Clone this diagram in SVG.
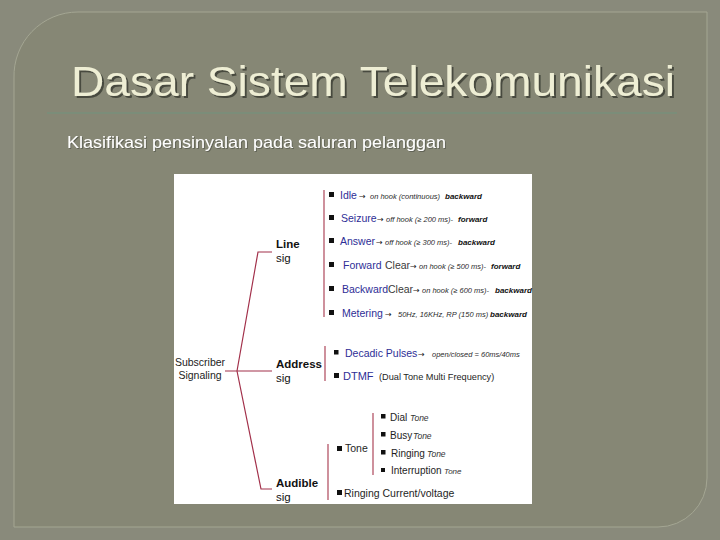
<svg xmlns="http://www.w3.org/2000/svg" width="720" height="540" viewBox="0 0 720 540">
  <defs>
    <filter id="sh" x="-5%" y="-20%" width="110%" height="150%">
      <feDropShadow dx="2" dy="2" stdDeviation="0.6" flood-color="#3e3f35" flood-opacity="0.85"/>
    </filter>
    <filter id="sh2" x="-5%" y="-20%" width="110%" height="150%">
      <feDropShadow dx="1" dy="1" stdDeviation="0.4" flood-color="#4a4b40" flood-opacity="0.6"/>
    </filter>
  </defs>
  <style>
    text { font-family: "Liberation Sans", Arial, sans-serif; }
    .title { font-size: 43px; fill: #eeeed4; }
    .sub { font-size: 17px; fill: #ffffff; }
    .blue { font-size: 10.5px; fill: #2e2e96; }
    .gray { font-size: 10.5px; fill: #3a3a3a; }
    .ital { font-size: 7.5px; font-style: italic; fill: #2a2a2a; }
    .bi { font-size: 8px; font-style: italic; font-weight: bold; fill: #111; }
    .arr { font-family: "DejaVu Sans", sans-serif; font-size: 8px; fill: #222; }
    .blk { font-size: 10.5px; fill: #1e1e1e; }
    .sm { font-size: 9.2px; fill: #1e1e1e; }
    .tone { font-size: 8.5px; font-style: italic; fill: #333; }
    .bold { font-size: 11.5px; font-weight: bold; fill: #111; }
    .reg { font-size: 11.5px; fill: #111; }
    .root { font-size: 10.5px; fill: #222; }
    .b { fill: #111; }
    .tree { stroke: #a2304a; stroke-width: 1.2; fill: none; }
    .brk { stroke: #c27584; stroke-width: 1.6; fill: none; }
  </style>

  <!-- background -->
  <rect x="0" y="0" width="720" height="540" fill="#898a7b"/>
  <path d="M14,78 A64,64 0 0 1 78,12 L707,12 L707,478 A49,49 0 0 1 658,527 L14,527 Z" fill="#868775" stroke="#a4a693" stroke-width="1"/>
  <line x1="47" y1="113" x2="677" y2="113" stroke="#7b8d79" stroke-width="2"/>

  <text class="title" x="71" y="96" textLength="604" lengthAdjust="spacingAndGlyphs" filter="url(#sh)">Dasar Sistem Telekomunikasi</text>
  <text class="sub" x="67" y="148" textLength="379" lengthAdjust="spacingAndGlyphs" filter="url(#sh2)">Klasifikasi pensinyalan pada saluran pelanggan</text>

  <!-- picture panel -->
  <rect x="174" y="174" width="358" height="330" fill="#ffffff"/>

  <!-- connectors -->
  <g id="connectors">
    <polyline class="tree" points="225,371 272,371"/>
    <polyline class="tree" points="237,371 258,252 272,252"/>
    <polyline class="tree" points="237,371 261,489 272,489"/>
    <line class="brk" x1="324" y1="190" x2="324" y2="317"/>
    <line class="brk" x1="325" y1="346" x2="325" y2="381"/>
    <line class="brk" x1="328" y1="444" x2="328" y2="500"/>
    <line class="brk" x1="373" y1="413" x2="373" y2="475"/>
  </g>

  <g id="root">
    <text class="root" x="200" y="366" text-anchor="middle">Subscriber</text>
    <text class="root" x="200" y="379" text-anchor="middle">Signaling</text>
  </g>

  <g id="line-sig">
    <text class="bold" x="276" y="248">Line</text>
    <text class="reg" x="276" y="262">sig</text>
  </g>
  <g id="address-sig">
    <text class="bold" x="276" y="368">Address</text>
    <text class="reg" x="276" y="382">sig</text>
  </g>
  <g id="audible-sig">
    <text class="bold" x="276" y="487">Audible</text>
    <text class="reg" x="276" y="501">sig</text>
  </g>

  <!-- Line sig items -->
  <g id="idle">
    <rect class="b" x="329" y="192" width="5" height="5"/>
    <text class="blue" x="340" y="199">Idle</text>
    <text class="arr" x="359" y="199">→</text>
    <text class="ital" x="370" y="199">on hook (continuous)</text>
    <text class="bi" x="445" y="199">backward</text>
  </g>
  <g id="seizure">
    <rect class="b" x="329" y="215" width="5" height="5"/>
    <text class="blue" x="341" y="222">Seizure</text>
    <text class="arr" x="377" y="222">→</text>
    <text class="ital" x="386" y="222">off hook (≥  200 ms)-</text>
    <text class="bi" x="458" y="222">forward</text>
  </g>
  <g id="answer">
    <rect class="b" x="329" y="238" width="5" height="5"/>
    <text class="blue" x="340" y="245">Answer</text>
    <text class="arr" x="376" y="245">→</text>
    <text class="ital" x="385" y="245">off hook (≥  300 ms)-</text>
    <text class="bi" x="458" y="245">backward</text>
  </g>
  <g id="forward-clear">
    <rect class="b" x="329" y="262" width="5" height="5"/>
    <text class="blue" x="343" y="269">Forward</text>
    <text class="gray" x="385" y="269">Clear</text>
    <text class="arr" x="410" y="269">→</text>
    <text class="ital" x="419" y="269">on hook (≥  500 ms)-</text>
    <text class="bi" x="491" y="269">forward</text>
  </g>
  <g id="backward-clear">
    <rect class="b" x="329" y="286" width="5" height="5"/>
    <text class="blue" x="342" y="293">Backward</text>
    <text class="gray" x="388" y="293">Clear</text>
    <text class="arr" x="413" y="293">→</text>
    <text class="ital" x="422" y="293">on hook (≥  600 ms)-</text>
    <text class="bi" x="495" y="293">backward</text>
  </g>
  <g id="metering">
    <rect class="b" x="329" y="310" width="5" height="5"/>
    <text class="blue" x="342" y="317">Metering</text>
    <text class="arr" x="385" y="317">→</text>
    <text class="ital" x="398" y="317">50Hz, 16KHz, RP (150 ms)</text>
    <text class="bi" x="490" y="317">backward</text>
  </g>

  <!-- Address items -->
  <g id="decadic">
    <rect class="b" x="334" y="350" width="4.5" height="4.5"/>
    <text class="blue" x="345" y="357">Decadic Pulses</text>
    <text class="arr" x="418" y="357">→</text>
    <text class="ital" x="432" y="357">open/closed = 60ms/40ms</text>
  </g>
  <g id="dtmf">
    <rect class="b" x="334" y="373" width="5" height="5"/>
    <text class="blue" x="343" y="380" style="font-size:11px">DTMF</text>
    <text class="sm" x="379" y="380">(Dual Tone Multi Frequency)</text>
  </g>

  <!-- Audible items -->
  <g id="tone">
    <rect class="b" x="337" y="446" width="5" height="5"/>
    <text class="blk" x="345" y="452">Tone</text>
  </g>
  <g id="dial-tone">
    <rect class="b" x="381" y="414" width="4.5" height="4.5"/>
    <text class="blk" x="390" y="421" style="font-size:10px">Dial</text>
    <text class="tone" x="410" y="421">Tone</text>
  </g>
  <g id="busy-tone">
    <rect class="b" x="381" y="432" width="4.5" height="4.5"/>
    <text class="blk" x="390" y="439" style="font-size:10px">Busy</text>
    <text class="tone" x="413" y="439">Tone</text>
  </g>
  <g id="ringing-tone">
    <rect class="b" x="381" y="450" width="4.5" height="4.5"/>
    <text class="blk" x="391" y="457" style="font-size:10px">Ringing</text>
    <text class="tone" x="427" y="457">Tone</text>
  </g>
  <g id="interruption-tone">
    <rect class="b" x="381" y="468" width="4" height="4"/>
    <text class="blk" x="391" y="474" style="font-size:10px">Interruption</text>
    <text class="tone" x="444" y="474" style="font-size:8px">Tone</text>
  </g>
  <g id="ringing-current">
    <rect class="b" x="337" y="490" width="5" height="5"/>
    <text class="blk" x="344" y="497">Ringing Current/voltage</text>
  </g>
</svg>
